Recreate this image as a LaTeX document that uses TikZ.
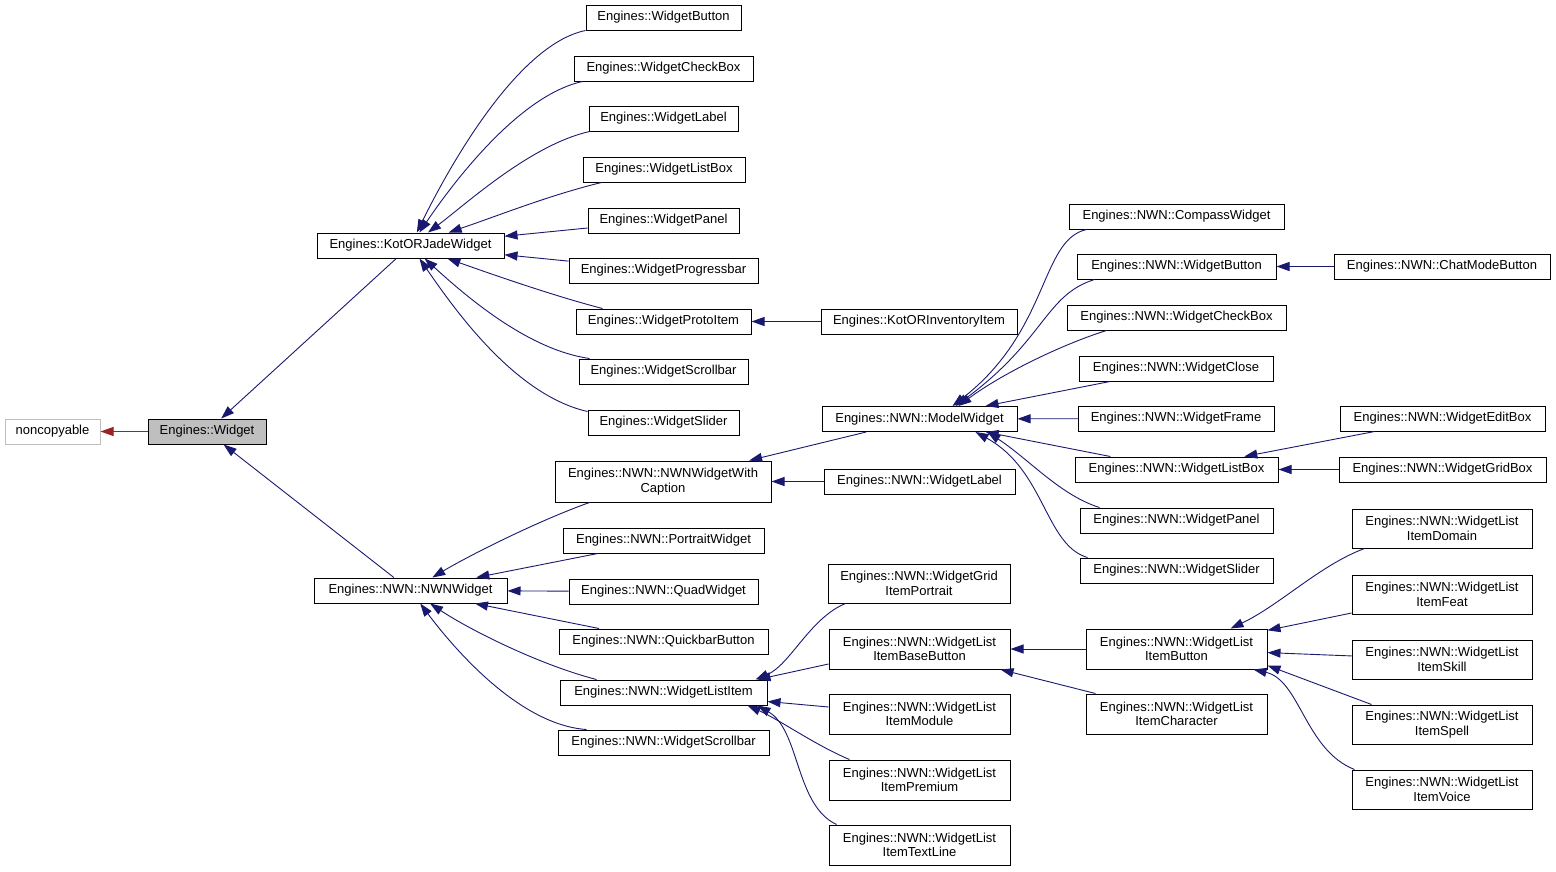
\documentclass[tikz,border=0pt]{standalone}
\usepackage{fontspec}
\setmainfont{Liberation Sans}
\usetikzlibrary{arrows.meta}
\definecolor{navyedge}{RGB}{25,25,112}
\definecolor{rededge}{RGB}{155,35,35}
\definecolor{boxgray}{RGB}{191,191,191}
\tikzset{
  cls/.style={draw=black, line width=1pt, minimum height=25pt, inner sep=1pt,
    align=center, font=\fontsize{13}{14.5}\selectfont},
  twoline/.style={cls, minimum height=40pt},
  inh/.style={draw=navyedge, line width=0.9pt,
    {Triangle[length=13pt,width=9pt,fill=navyedge]}-},
  priv/.style={draw=rededge, line width=0.9pt,
    {Triangle[length=13pt,width=9pt,fill=rededge]}-}
}
\begin{document}
\begin{tikzpicture}[x=1pt,y=-1pt]
      \fill[white] (0,0) rectangle (1556,871);
      \useasboundingbox (0,0) rectangle (1556,871);
      \draw
        (52.5,431.5) node[cls, draw=boxgray, minimum width=95pt] (noncopyable){noncopyable}
        (207,431.5) node[cls, fill=boxgray, minimum width=118pt] (widget){Engines::Widget}
        (410.5,245.5) node[cls, minimum width=187pt] (kj){Engines::KotORJadeWidget}
        (410.5,590.5) node[cls, minimum width=193pt] (nwn){Engines::NWN::NWNWidget}
        (663.5,17.5) node[cls, minimum width=155pt] (wbtn){Engines::WidgetButton}
        (663.5,68.5) node[cls, minimum width=179pt] (wcheck){Engines::WidgetCheckBox}
        (663.5,118.5) node[cls, minimum width=149pt] (wlabel){Engines::WidgetLabel}
        (664,169.5) node[cls, minimum width=162pt] (wlistbox){Engines::WidgetListBox}
        (663.5,220.5) node[cls, minimum width=151pt] (wpanel){Engines::WidgetPanel}
        (663.5,270.5) node[cls, minimum width=189pt] (wprog){Engines::WidgetProgressbar}
        (663.5,321.5) node[cls, minimum width=175pt] (wproto){Engines::WidgetProtoItem}
        (663.5,371.5) node[cls, minimum width=169pt] (wscroll){Engines::WidgetScrollbar}
        (663.5,422.5) node[cls, minimum width=151pt] (wslider){Engines::WidgetSlider}
        (663,481.5) node[twoline, minimum width=216pt, minimum height=41pt] (caption){Engines::NWN::NWNWidgetWith\\Caption}
        (663.5,540.5) node[cls, minimum width=201pt] (portrait){Engines::NWN::PortraitWidget}
        (663.5,591.5) node[cls, minimum width=189pt] (quad){Engines::NWN::QuadWidget}
        (663.5,641.5) node[cls, minimum width=209pt] (quickbar){Engines::NWN::QuickbarButton}
        (663.5,692.5) node[cls, minimum width=207pt] (wlistitem){Engines::NWN::WidgetListItem}
        (663.5,742.5) node[cls, minimum width=211pt] (nscroll){Engines::NWN::WidgetScrollbar}
        (919,321.5) node[cls, minimum width=196pt] (kinv){Engines::KotORInventoryItem}
        (919.5,419) node[cls, minimum width=195pt] (mw){Engines::NWN::ModelWidget}
        (919.5,481.5) node[cls, minimum width=191pt] (nlabel){Engines::NWN::WidgetLabel}
        (919,583.5) node[twoline, minimum width=182pt, minimum height=39pt] (gridport){Engines::NWN::WidgetGrid\\ItemPortrait}
        (919.5,649) node[twoline, minimum width=181pt] (basebtn){Engines::NWN::WidgetList\\ItemBaseButton}
        (919.5,714) node[twoline, minimum width=181pt] (imodule){Engines::NWN::WidgetList\\ItemModule}
        (919.5,780) node[twoline, minimum width=181pt] (ipremium){Engines::NWN::WidgetList\\ItemPremium}
        (919.5,845) node[twoline, minimum width=181pt] (itextline){Engines::NWN::WidgetList\\ItemTextLine}
        (1176.5,216.5) node[cls, minimum width=215pt] (compass){Engines::NWN::CompassWidget}
        (1176.5,266.5) node[cls, minimum width=199pt] (nbtn){Engines::NWN::WidgetButton}
        (1176.5,317.5) node[cls, minimum width=219pt] (ncheck){Engines::NWN::WidgetCheckBox}
        (1176,368.5) node[cls, minimum width=194pt] (wclose){Engines::NWN::WidgetClose}
        (1176,418.5) node[cls, minimum width=196pt] (wframe){Engines::NWN::WidgetFrame}
        (1176.5,469.5) node[cls, minimum width=203pt] (nlistbox){Engines::NWN::WidgetListBox}
        (1176.5,520.5) node[cls, minimum width=193pt] (npanel){Engines::NWN::WidgetPanel}
        (1176.5,570.5) node[cls, minimum width=193pt] (nslider){Engines::NWN::WidgetSlider}
        (1176.5,649) node[twoline, minimum width=181pt] (ibutton){Engines::NWN::WidgetList\\ItemButton}
        (1176.5,714) node[twoline, minimum width=181pt] (icharacter){Engines::NWN::WidgetList\\ItemCharacter}
        (1442,266.5) node[cls, minimum width=216pt] (nchat){Engines::NWN::ChatModeButton}
        (1442.5,418.5) node[cls, minimum width=205pt] (editbox){Engines::NWN::WidgetEditBox}
        (1442.5,469.5) node[cls, minimum width=207pt] (gridbox){Engines::NWN::WidgetGridBox}
        (1442,528.5) node[twoline, minimum width=180pt, minimum height=39pt] (idomain){Engines::NWN::WidgetList\\ItemDomain}
        (1442,594.5) node[twoline, minimum width=180pt, minimum height=39pt] (ifeat){Engines::NWN::WidgetList\\ItemFeat}
        (1442,659.5) node[twoline, minimum width=180pt, minimum height=39pt] (iskill){Engines::NWN::WidgetList\\ItemSkill}
        (1442,724.5) node[twoline, minimum width=180pt, minimum height=39pt] (ispell){Engines::NWN::WidgetList\\ItemSpell}
        (1442,789.5) node[twoline, minimum width=180pt, minimum height=39pt] (ivoice){Engines::NWN::WidgetList\\ItemVoice};
      \draw[priv] (noncopyable) to (widget);
      \begin{scope}[inh]
        \draw (widget) to (kj);
        \draw (widget) to (nwn);
        \draw (kj) .. controls (445,175) and (515,45) .. (wbtn.south west);
        \draw (kj) .. controls (455,180) and (520,95) .. ([xshift=9]wcheck.south west);
        \draw (kj) .. controls (465,205) and (530,145) .. ([xshift=1]wlabel.south west);
        \draw (kj) .. controls (500,215) and (550,195) .. ([xshift=19]wlistbox.south west);
        \draw (kj) to (wpanel);
        \draw (kj) to (wprog);
        \draw (kj) .. controls (480,270) and (550,295) .. ([xshift=27]wproto.north west);
        \draw (kj) .. controls (470,300) and (530,350) .. ([xshift=11]wscroll.north west);
        \draw (kj) .. controls (455,310) and (515,395) .. ([yshift=-2]wslider.north west);
        \draw (wproto) to (kinv);
        \draw (nwn) .. controls (470,555) and (540,520) .. ([xshift=35]caption.south west);
        \draw (nwn) to (portrait);
        \draw (nwn) to (quad);
        \draw (nwn) to (quickbar);
        \draw (nwn) .. controls (470,630) and (540,665) .. ([xshift=37]wlistitem.north west);
        \draw (nwn) .. controls (455,650) and (520,725) .. ([xshift=29]nscroll.north west);
        \draw (caption) to (mw);
        \draw (caption) to (nlabel);
        \draw ([xshift=33]mw.north) .. controls (1050,330) and (1040,240) .. ([xshift=18]compass.south west);
        \draw ([xshift=36]mw.north) .. controls (1045,340) and (1045,295) .. ([xshift=18]nbtn.south west);
        \draw ([xshift=39]mw.north) .. controls (1000,375) and (1060,345) .. ([xshift=40]ncheck.south west);
        \draw (mw) to (wclose);
        \draw (mw) to (wframe);
        \draw (mw) to (nlistbox);
        \draw ([xshift=68]mw.south) .. controls (1030,460) and (1060,495) .. ([xshift=20]npanel.north west);
        \draw ([xshift=56]mw.south) .. controls (1045,470) and (1045,545) .. ([xshift=8]nslider.north west);
        \draw (nbtn) to (nchat);
        \draw (nlistbox) to (editbox);
        \draw (nlistbox) to (gridbox);
        \draw ([xshift=-12]wlistitem.north east) .. controls (790,665) and (810,618) .. ([xshift=18]gridport.south west);
        \draw ([xshift=-10]wlistitem.north east) to ([yshift=-15]basebtn.west);
        \draw ([yshift=4]wlistitem.south east) to ([yshift=7]imodule.west);
        \draw ([xshift=-20]wlistitem.south east) .. controls (780,720) and (815,745) .. ([xshift=21]ipremium.north west);
        \draw ([xshift=-10]wlistitem.south east) .. controls (800,730) and (795,805) .. ([xshift=8]itextline.north west);
        \draw (basebtn) to (ibutton);
        \draw (basebtn) to (icharacter);
        \draw ([xshift=-37]ibutton.north east) .. controls (1280,605) and (1320,565) .. ([xshift=13]idomain.south west);
        \draw (ibutton) to (ifeat);
        \draw (ibutton) to (iskill);
        \draw ([yshift=4]ibutton.south east) to ([xshift=20]ispell.north west);
        \draw ([xshift=-14]ibutton.south east) .. controls (1300,680) and (1305,750) .. ([xshift=3]ivoice.north west);
      \end{scope}
    \end{tikzpicture}
\end{document}
